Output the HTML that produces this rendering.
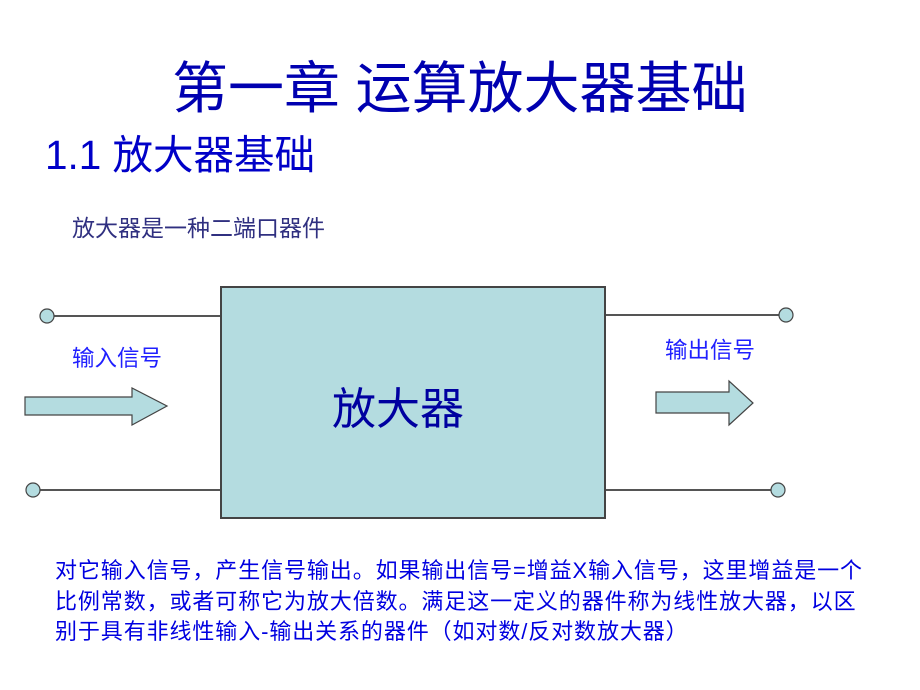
<!DOCTYPE html>
<html><head><meta charset="utf-8"><style>
body{margin:0;width:920px;height:690px;background:#fff;overflow:hidden;position:relative;font-family:"Liberation Sans","Noto Sans CJK SC",sans-serif}
.t{position:absolute;white-space:nowrap;line-height:1}
</style></head><body>
<svg width="920" height="690" style="position:absolute;left:0;top:0">
<g stroke="#555" stroke-width="2">
<line x1="47" y1="316" x2="221" y2="316"/>
<line x1="33" y1="490" x2="221" y2="490"/>
<line x1="605" y1="315" x2="786" y2="315"/>
<line x1="605" y1="490" x2="778" y2="490"/>
</g>
<rect x="221" y="287" width="384" height="231" fill="#b4dce0" stroke="#444" stroke-width="2"/>
<g fill="#b4dce0" stroke="#444" stroke-width="1.2">
<circle cx="47" cy="316" r="7"/><circle cx="33" cy="490" r="7"/>
<circle cx="786" cy="315" r="7"/><circle cx="778" cy="490" r="7"/>
<polygon points="25,397 132,397 132,388 167,406 132,425 132,415 25,415"/>
<polygon points="656,392 729,392 729,381 753,403 729,425 729,413 656,413"/>
</g>
</svg>
<div class="t" style="left:172px;top:61px;font-size:56px;color:#0000b0">第一章 运算放大器基础</div>
<div class="t" style="left:45px;top:135px;font-size:40.5px;color:#0000c8">1.1 放大器基础</div>
<div class="t" style="left:72px;top:217px;font-size:23px;color:#303080">放大器是一种二端口器件</div>
<div class="t" style="left:72px;top:348px;font-size:22.5px;color:#2020ff">输入信号</div>
<div class="t" style="left:665px;top:340px;font-size:22.5px;color:#2020ff">输出信号</div>
<div class="t" style="left:332px;top:388px;font-size:44px;color:#0000a0">放大器</div>
<div class="t" style="left:55px;top:556px;font-size:22px;letter-spacing:0.9px;color:#0000e0;line-height:30.5px">对它输入信号，产生信号输出。如果输出信号=增益X输入信号，这里增益是一个<br>比例常数，或者可称它为放大倍数。满足这一定义的器件称为线性放大器，以区<br>别于具有非线性输入-输出关系的器件（如对数/反对数放大器）</div>
</body></html>
